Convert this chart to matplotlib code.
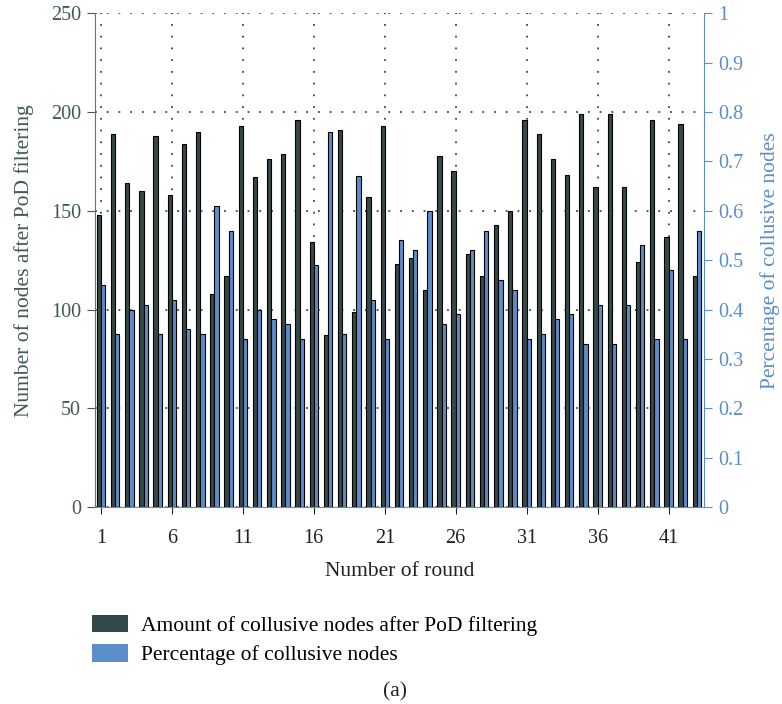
import numpy as np
import matplotlib
matplotlib.use("Agg")
import matplotlib.pyplot as plt
from matplotlib.patches import Patch

rounds = list(range(1, 44))
amount_after_pod = [148, 189, 164, 160, 188, 158, 184, 190, 108, 117,
                    193, 167, 176, 179, 196, 134, 87, 191, 99, 157,
                    193, 123, 126, 110, 178, 170, 128, 117, 143, 150,
                    196, 189, 176, 168, 199, 162, 199, 162, 124, 196,
                    137, 194, 117]
collusive_pct = [0.45, 0.35, 0.40, 0.41, 0.35, 0.42, 0.36, 0.35, 0.61, 0.56,
                 0.34, 0.40, 0.38, 0.37, 0.34, 0.49, 0.76, 0.35, 0.67, 0.42,
                 0.34, 0.54, 0.52, 0.60, 0.37, 0.39, 0.52, 0.56, 0.46, 0.44,
                 0.34, 0.35, 0.38, 0.39, 0.33, 0.41, 0.33, 0.41, 0.53, 0.34,
                 0.48, 0.34, 0.56]
x_ticks = [1, 6, 11, 16, 21, 26, 31, 36, 41]
left_ticks = [0, 50, 100, 150, 200, 250]
right_ticks = [0, 0.1, 0.2, 0.3, 0.4, 0.5, 0.6, 0.7, 0.8, 0.9, 1]
right_tick_labels = ["0", "0.1", "0.2", "0.3", "0.4", "0.5", "0.6", "0.7",
                     "0.8", "0.9", "1"]

dark = "#344a4a"
blue = "#5b8dcb"
slate = "#3f5858"
ink = "#222222"

plt.rcParams["font.family"] = ["Liberation Serif", "DejaVu Serif"]
TICK_FS = 14.5
LABEL_FS = 15.5

fig = plt.figure(figsize=(7.82, 7.04), dpi=100)
ax = fig.add_axes([0.1215, 0.2798, 0.7788, 0.7012])
ax2 = ax.twinx()

x = np.array(rounds, dtype=float)
w = 0.3
ax.bar(x - w / 2, amount_after_pod, width=w, color=dark, edgecolor="black",
       linewidth=0.8, zorder=3)
ax2.bar(x + w / 2, collusive_pct, width=w, color=blue, edgecolor="black",
        linewidth=0.8, zorder=3)

ax.set_xlim(0.58, 43.5)
ax.set_ylim(0, 250)
ax2.set_ylim(0, 1)
ax.set_xticks(x_ticks)
ax.set_xticklabels([str(t) for t in x_ticks], fontsize=TICK_FS, color=ink)
ax.set_yticks(left_ticks)
ax.set_yticklabels([str(t) for t in left_ticks], fontsize=TICK_FS, color=slate)
ax2.set_yticks(right_ticks)
ax2.set_yticklabels(right_tick_labels, fontsize=TICK_FS, color=blue)

ax.grid(True, linestyle=(0, (1, 5.5)), color="#444444", linewidth=1.3,
        zorder=0)
ax.set_axisbelow(True)

for side in ("top", "right"):
    ax.spines[side].set_visible(False)
for side in ("top", "left"):
    ax2.spines[side].set_visible(False)
ax.spines["left"].set_color("#5f7373")
ax.spines["bottom"].set_color(blue)
ax2.spines["bottom"].set_visible(False)
ax2.spines["right"].set_color(blue)

ax.tick_params(axis="y", direction="out", length=6, color=slate, pad=4)
ax.tick_params(axis="x", direction="out", length=5, color=ink, pad=11)
ax2.tick_params(axis="y", direction="out", length=6, color=blue, pad=4)

ax.set_xlabel("Number of round", fontsize=LABEL_FS, color=ink, labelpad=10)
ax.set_ylabel("Number of nodes after PoD filtering", fontsize=LABEL_FS,
              color=slate, labelpad=12)
ax2.set_ylabel("Percentage of collusive nodes", fontsize=LABEL_FS, color=blue,
               labelpad=12)

handles = [Patch(facecolor=dark, edgecolor="none"),
           Patch(facecolor=blue, edgecolor="none")]
fig.legend(handles,
           ["Amount of collusive nodes after PoD filtering",
            "Percentage of collusive nodes"],
           loc="upper left", bbox_to_anchor=(0.118, 0.127),
           frameon=False, fontsize=LABEL_FS, handlelength=1.65,
           handleheight=0.9, handletextpad=0.62, labelspacing=0.38,
           borderaxespad=0, borderpad=0)

fig.text(0.505, 0.004, "(a)", ha="center", va="bottom", fontsize=LABEL_FS,
         color=ink)

fig.savefig("out.png", dpi=100)
